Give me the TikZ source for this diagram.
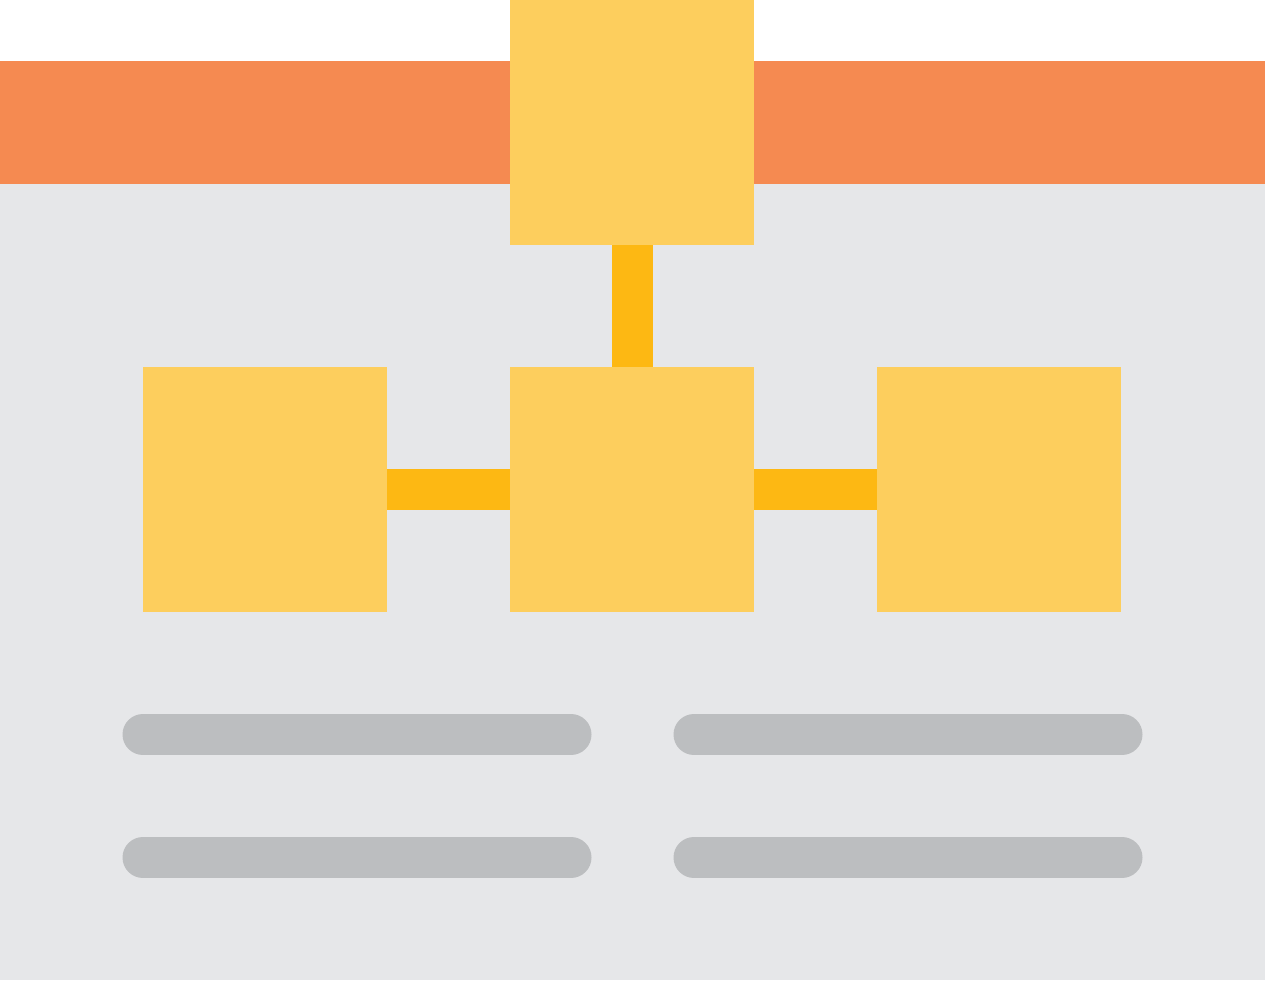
\documentclass[tikz,border=0pt]{standalone}
\definecolor{bandorange}{HTML}{F58A51}
\definecolor{panelgray}{HTML}{E6E7E9}
\definecolor{boxyellow}{HTML}{FDCE5D}
\definecolor{linkyellow}{HTML}{FDB813}
\definecolor{bargray}{HTML}{BCBEC0}
\tikzset{
  blockbox/.style={fill=boxyellow, draw=none, inner sep=0pt, outer sep=0pt, minimum width=244pt, minimum height=245pt, anchor=north west},
  link/.style={draw=linkyellow, line width=41pt},
  textbar/.style={draw=bargray, line width=41pt, line cap=round}
}
\begin{document}
\begin{tikzpicture}[x=1pt,y=-1pt]
\useasboundingbox (0,0) rectangle (1265,980);
\fill[white] (0,0) rectangle (1265,980);
\fill[panelgray] (0,184) rectangle (1265,980);
\fill[bandorange] (0,61) rectangle (1265,184);
\node[blockbox] (top) at (510,0) {};
\node[blockbox] (left) at (143,367) {};
\node[blockbox] (center) at (510,367) {};
\node[blockbox] (right) at (877,367) {};
\draw[link] (top.south) -- (center.north);
\draw[link] (left.east) -- (center.west);
\draw[link] (center.east) -- (right.west);
\draw[textbar] (143,734.5) -- (571,734.5);
\draw[textbar] (694,734.5) -- (1122,734.5);
\draw[textbar] (143,857.5) -- (571,857.5);
\draw[textbar] (694,857.5) -- (1122,857.5);
\end{tikzpicture}
\end{document}
